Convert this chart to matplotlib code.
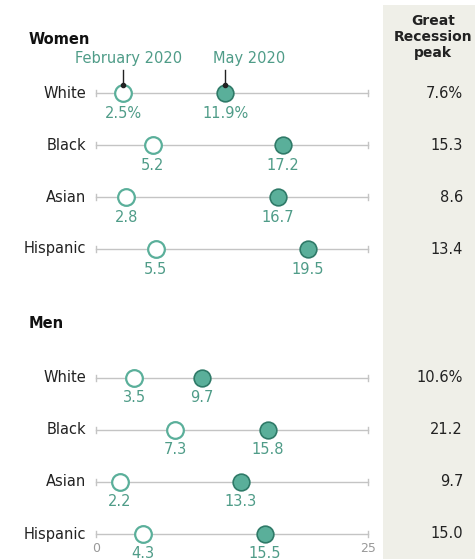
import matplotlib.pyplot as plt

# datos
grupos = ['White', 'Black', 'Asian', 'Hispanic']
mujeres_feb = [2.5, 5.2, 2.8, 5.5]
mujeres_may = [11.9, 17.2, 16.7, 19.5]
mujeres_recesion = ['7.6%', '15.3', '8.6', '13.4']
hombres_feb = [3.5, 7.3, 2.2, 4.3]
hombres_may = [9.7, 15.8, 13.3, 15.5]
hombres_recesion = ['10.6%', '21.2', '9.7', '15.0']

verde = '#5aaf9a'
borde = '#2f7a68'
texto_verde = '#4f9c88'
gris = '#c4c4c4'

fig = plt.figure(figsize=(4.75, 5.59), dpi=100)
ax = fig.add_axes([0, 0, 1, 1])
px = 25 / 272
ax.set_xlim(-96 * px, (475 - 96) * px)
ax.set_ylim(559, 0)
ax.axis('off')

# columna de la derecha
ax.fill_between([(383 - 96) * px, 34.9], 5, 559, color='#efefe8', zorder=0, lw=0)
ax.text((433 - 96) * px, 37, 'Great\nRecession\npeak', ha='center', va='center',
        fontsize=10, fontweight='bold', color='#222222', linespacing=1.15)


def dibujar(y0, feb, may, recesion, primero):
    for i, g in enumerate(grupos):
        y = y0 + i * 52
        ax.plot([0, 25], [y, y], color=gris, lw=1, zorder=1)
        ax.plot([0, 0], [y - 3, y + 3], color=gris, lw=1, zorder=1)
        ax.plot([25, 25], [y - 3, y + 3], color=gris, lw=1, zorder=1)
        ax.plot(feb[i], y, 'o', ms=12, mfc='white', mec=verde, mew=1.6, zorder=3)
        ax.plot(may[i], y, 'o', ms=12, mfc=verde, mec=borde, mew=1.2, zorder=3)
        sufijo = '%' if (primero and i == 0) else ''
        ax.text(feb[i], y + 20, f'{feb[i]}{sufijo}', ha='center', va='center',
                fontsize=10.5, color=texto_verde)
        ax.text(may[i], y + 20, f'{may[i]}{sufijo}', ha='center', va='center',
                fontsize=10.5, color=texto_verde)
        ax.text(-0.9, y, g, ha='right', va='center', fontsize=10.5, color='#222222')
        ax.text((463 - 96) * px, y, recesion[i], ha='right', va='center',
                fontsize=10.5, color='#222222')


ax.text(-67 * px, 39, 'Women', ha='left', va='center', fontsize=10.5,
        fontweight='bold', color='#111111')
dibujar(93, mujeres_feb, mujeres_may, mujeres_recesion, True)

ax.text(-67 * px, 324, 'Men', ha='left', va='center', fontsize=10.5,
        fontweight='bold', color='#111111')
dibujar(378, hombres_feb, hombres_may, hombres_recesion, False)

# anotaciones de leyenda
for x, etiqueta in [(mujeres_feb[0], 'February 2020'), (mujeres_may[0], 'May 2020')]:
    ax.text(x + (0.5 if x < 5 else 2.2), 58, etiqueta, ha='center', va='center',
            fontsize=10.5, color=texto_verde)
    ax.plot([x, x], [70, 85], color='#222222', lw=1, zorder=4)
    ax.plot(x, 85, 'o', ms=3, color='#222222', zorder=4)

# eje
ax.text(0, 549, '0', ha='center', va='center', fontsize=9, color='#999999')
ax.text(25, 549, '25', ha='center', va='center', fontsize=9, color='#999999')

fig.savefig('out.png', dpi=100)
